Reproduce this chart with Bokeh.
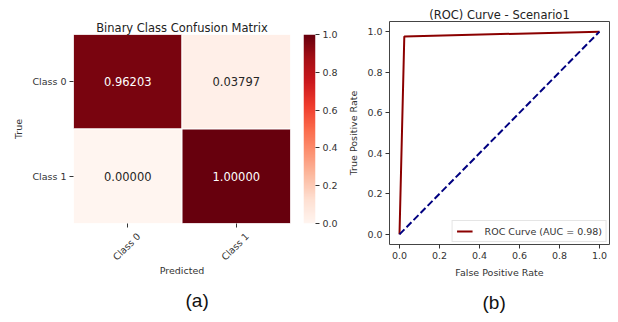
import numpy as np
from bokeh.plotting import figure
from bokeh.layouts import row
from bokeh.models import (FactorRange, Range1d, LinearColorMapper, FixedTicker, LinearAxis,
                          ColumnDataSource, Title, PrintfTickFormatter,
                          CustomJSTickFormatter, CustomLabelingPolicy)
from bokeh.palettes import Reds256
from bokeh.embed import file_html
from bokeh.resources import INLINE
from bokeh.core.properties import value

# ---------------- data ----------------
classes = ["Class 0", "Class 1"]
cm_true = ["Class 0", "Class 0", "Class 1", "Class 1"]
cm_pred = ["Class 0", "Class 1", "Class 0", "Class 1"]
cm_values = [0.96203, 0.03797, 0.00000, 1.00000]
cbar_ticks = [0.0, 0.2, 0.4, 0.6, 0.8, 1.0]

roc_fpr = [0.0, 0.024, 1.0]
roc_tpr = [0.0, 0.976, 1.0]
chance = [0.0, 1.0]
roc_ticks = [0.0, 0.2, 0.4, 0.6, 0.8, 1.0]
auc_label = "ROC Curve (AUC = 0.98)"

# ---------------- style ----------------
FONT = "DejaVu Sans"
CAP_FONT = "Liberation Sans"
TXT = "#333333"
H = 322

pal = list(Reds256)
if int(pal[0][1:3], 16) < int(pal[-1][1:3], 16):
    pal = pal[::-1]  # light -> dark
mapper = LinearColorMapper(palette=pal, low=0, high=1)


def style_axis(ax):
    ax.axis_line_color = None
    ax.major_tick_line_color = TXT
    ax.major_tick_out = 4
    ax.major_tick_in = 0
    ax.minor_tick_line_color = None
    ax.major_label_text_font = FONT
    ax.major_label_text_font_size = "9.5px"
    ax.major_label_text_color = TXT
    ax.major_label_standoff = 3
    ax.axis_label_text_font = FONT
    ax.axis_label_text_font_size = "9.5px"
    ax.axis_label_text_font_style = "normal"
    ax.axis_label_text_color = TXT
    ax.axis_label_standoff = 5


def style_title(p, text):
    p.title.text = text
    p.title.align = "center"
    p.title.text_font = FONT
    p.title.text_font_size = "11.5px"
    p.title.text_font_style = "normal"
    p.title.text_color = "#222222"
    p.title.standoff = 0


def caption(p, text, offset, standoff):
    p.add_layout(Title(text=text, align="left", offset=offset, vertical_align="bottom",
                       text_font=CAP_FONT, text_font_size="19px", text_font_style="normal",
                       text_color="#111111", standoff=standoff), "below")


# ---------------- (a) confusion matrix ----------------
pred_idx = [classes.index(c) for c in cm_pred]
src = ColumnDataSource(dict(
    pred=pred_idx, true=cm_true, val=cm_values,
    label=[f"{v:.5f}" for v in cm_values],
    tcol=["#ffffff" if v > 0.5 else "#262626" for v in cm_values],
))

n = len(classes)
p1 = figure(width=298, height=H, frame_align=False,
            x_range=Range1d(-0.5, n - 0.5), y_range=FactorRange(*classes[::-1]),
            output_backend="svg", toolbar_location=None,
            min_border_left=73, min_border_right=8,
            min_border_top=34, min_border_bottom=99)
p1.rect(x="pred", y="true", width=1, height=1, source=src,
        fill_color={"field": "val", "transform": mapper},
        line_color="white", line_width=1)
p1.text(x="pred", y="true", text="label", source=src, text_color="tcol",
        text_align="center", text_baseline="middle",
        text_font=value(FONT), text_font_size="11.5px")
p1.grid.visible = False
p1.outline_line_color = None
style_axis(p1.xaxis[0])
style_axis(p1.yaxis[0])
p1.yaxis.axis_label = "True"
style_title(p1, "Binary Class Confusion Matrix")

# main x axis: tick marks only (labels drawn centred by a second axis)
p1.xaxis.ticker = FixedTicker(ticks=list(range(n)))
p1.xaxis.major_label_standoff = 0
p1.xaxis.major_label_text_font_size = "4px"
p1.xaxis.major_label_policy = CustomLabelingPolicy(
    code="try { for (const i of Array.from(indices)) { indices.unset(i) } } catch (e) {}\nreturn indices")

# label axis: rotated class names, centred under the ticks
LAB_SHIFT = 0.10
p1.extra_x_ranges = {"xlab": Range1d(-0.5 - LAB_SHIFT, n - 0.5 - LAB_SHIFT)}
xlab = LinearAxis(x_range_name="xlab",
                  ticker=FixedTicker(ticks=list(range(n))),
                  formatter=CustomJSTickFormatter(args=dict(names=classes),
                                                  code="return names[Math.round(tick)] || ''"))
style_axis(xlab)
xlab.major_tick_line_color = None
xlab.major_tick_out = 0
xlab.major_label_orientation = np.pi / 4
xlab.major_label_standoff = 1
xlab.axis_label = "Predicted"
xlab.axis_label_standoff = -4
p1.add_layout(xlab, "below")
caption(p1, "(a)", 112, 17)

# ---------------- colour bar ----------------
p2 = figure(width=47, height=H, frame_align=False,
            x_range=Range1d(0, 1), y_range=Range1d(0, 1),
            y_axis_location="right", output_backend="svg", toolbar_location=None,
            min_border_left=5, min_border_right=30,
            min_border_top=34, min_border_bottom=99)
grad = np.linspace(mapper.low, mapper.high, 256).reshape(256, 1)
p2.image(image=[grad], x=0, y=0, dw=1, dh=1, color_mapper=mapper)
p2.xaxis.visible = False
p2.grid.visible = False
p2.outline_line_color = None
style_axis(p2.yaxis[0])
p2.yaxis.ticker = FixedTicker(ticks=cbar_ticks)
p2.yaxis.formatter = PrintfTickFormatter(format="%.1f")

# ---------------- (b) ROC curve ----------------
p3 = figure(width=273, height=H, frame_align=False,
            x_range=Range1d(-0.05, 1.05), y_range=Range1d(-0.05, 1.05),
            output_backend="svg", toolbar_location=None,
            min_border_left=40, min_border_right=9,
            min_border_top=21, min_border_bottom=78)
p3.line(roc_fpr, roc_tpr, line_color="#8b0000", line_width=2, legend_label=auc_label)
p3.line(chance, chance, line_color="#000080", line_width=2, line_dash="7 3")
p3.grid.visible = False
p3.outline_line_color = "#444444"
p3.outline_line_width = 1
style_axis(p3.xaxis[0])
style_axis(p3.yaxis[0])
p3.xaxis.ticker = FixedTicker(ticks=roc_ticks)
p3.yaxis.ticker = FixedTicker(ticks=roc_ticks)
p3.xaxis.formatter = PrintfTickFormatter(format="%.1f")
p3.yaxis.formatter = PrintfTickFormatter(format="%.1f")
p3.xaxis.axis_label = "False Positive Rate"
p3.yaxis.axis_label = "True Positive Rate"
style_title(p3, "(ROC) Curve - Scenario1")
lg = p3.legend[0]
lg.location = "bottom_right"
lg.margin = 2
lg.padding = 4
lg.spacing = 0
lg.label_height = 12
lg.glyph_height = 12
lg.glyph_width = 16
lg.label_standoff = 12
lg.border_line_color = "#cccccc"
lg.background_fill_alpha = 0.85
lg.label_text_font = FONT
lg.label_text_font_size = "9.5px"
lg.label_text_color = TXT
caption(p3, "(b)", 93, 19)

layout = row(p1, p2, p3)
open("out.html", "w").write(file_html(layout, INLINE))
